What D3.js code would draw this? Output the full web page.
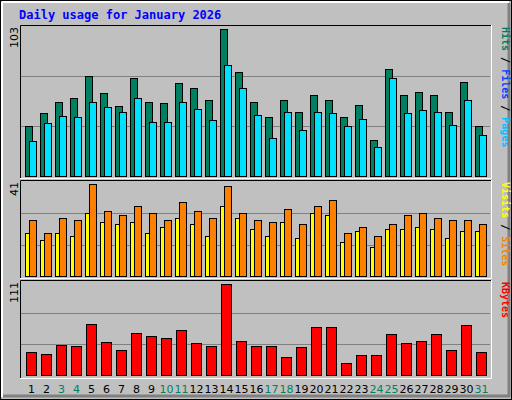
<!DOCTYPE html><html><head><meta charset="utf-8"><script src="https://cdn.jsdelivr.net/npm/d3@7"></script>
<style>body{margin:0;background:#fff}</style></head><body><svg id="c" width="512" height="400"></svg>
<script>
const days=d3.range(1,32);
const weekend=[3,4,10,11,17,18,24,25,31];
const hits=[35,44,52,55,70,58,49,69,52,51,65,62,53,103,73,52,41,53,45,57,53,41,50,25,75,57,59,57,45,66,35];
const files=[24.5,37,42,41,52,48,45,55,38,38,52,47,39,78,62,43,26.6,45,32,45,44,35,40,20,69,44,46,45,36,53,29];
const sites=[19,16,19,18,28,24,23,24,19,22,26,23,18,31,26,21,18,24,17,28,27,15,20,13,21,21,22,21,17,20,20];
const visits=[25,19,26,25,41,29,27,31,28,25,33,29,26,40,28,25,24,30,23,31,34,19,22,18,23,27,28,26,25,25,23];
const kbytes=[28,26,37,35,62,40,31,51,47,45,55,39,35,111,42,35,35,22,34,58,58,15,24,25,50,39,42,50,30,61,28];

const svg=d3.select("#c");
svg.append("rect").attr("width",512).attr("height",400).attr("fill","#c0c0c0");
svg.append("rect").attr("x",0.5).attr("y",0.5).attr("width",511).attr("height",399).attr("fill","none").attr("stroke","#000");
svg.append("path").attr("d","M2,2H509M2,2V397").attr("stroke","#fff").attr("stroke-width",2).attr("fill","none");
svg.append("path").attr("d","M3,396H509V3").attr("stroke","#808080").attr("stroke-width",3).attr("fill","none");
svg.append("text").attr("x",19).attr("y",19).text("Daily usage for January 2026")
 .attr("font-family","DejaVu Sans Mono").attr("font-weight","bold").attr("font-size",12).attr("fill","#0000ff");

const x=d3.scaleBand().domain(days).range([25,490]).paddingInner(0).paddingOuter(0);
const panels=[
 {top:25,bot:178,base:176,maxY:29,max:103,series:[[hits,"#008060",0],[files,"#00e0ff",4]],label:"103",
  legend:[["Pages","#00c0ff"],[" / ","#000"],["Files","#0040ff"],[" / ","#000"],["Hits","#008060"]]},
 {top:180,bot:278,base:276,maxY:184,max:41,series:[[sites,"#ffff00",0],[visits,"#ff8000",4]],label:"41",
  legend:[["Sites","#ff8000"],[" / ","#000"],["Visits","#ffff00"]]},
 {top:280,bot:378,base:375,maxY:284,max:111,series:[[kbytes,"#ff0000",1,10]],label:"111",
  legend:[["KBytes","#ff0000"]]}
];
panels.forEach(p=>{
 const y=d3.scaleLinear().domain([0,p.max]).range([p.base,p.maxY]);
 const g=svg.append("g");
 [1/3,2/3].forEach(f=>{const yy=Math.round(p.base-(p.base-p.maxY)*f*1.02)+0.5;
  g.append("line").attr("x1",21).attr("x2",490).attr("y1",yy).attr("y2",yy).attr("stroke","#808080");});
 p.series.forEach(([vals,col,off,w])=>{
  g.selectAll(null).data(vals).enter().append("rect")
   .attr("x",(d,i)=>x(days[i])+off+0.5).attr("y",d=>Math.round(y(d))+0.5)
   .attr("width",(w||7)).attr("height",d=>p.base-Math.round(y(d)))
   .attr("fill",col).attr("stroke","#000");
 });
 g.append("path").attr("d",`M20.5,${p.bot}V${p.top+0.5}H491`).attr("stroke","#000").attr("fill","none");
 g.append("path").attr("d",`M20,${p.bot+0.5}H491.5V${p.top}`).attr("stroke","#fff").attr("fill","none");
 g.append("text").attr("transform",`translate(18,${p.top+2}) rotate(-90)`).attr("text-anchor","end")
  .attr("font-family","DejaVu Sans").attr("font-size",11).attr("fill","#000").text(p.label);
 const t=g.append("text").attr("transform",`translate(502,${p.top+2}) rotate(90)`)
  .attr("font-family","DejaVu Sans Mono").attr("font-weight","bold").attr("font-size",10);
 const full=p.legend.map(l=>l[0]).join("");
 t.attr("text-anchor","start");
 p.legend.slice().reverse().forEach(l=>t.append("tspan").attr("fill",l[1]).text(l[0]));
});
svg.selectAll(".d").data(days).enter().append("text")
 .attr("x",d=>x(d)+x.bandwidth()/2-1).attr("y",393).attr("text-anchor","middle")
 .attr("font-family","DejaVu Sans").attr("font-size",11)
 .attr("fill",d=>weekend.includes(d)?"#008060":"#000").text(d=>d);
</script></body></html>
